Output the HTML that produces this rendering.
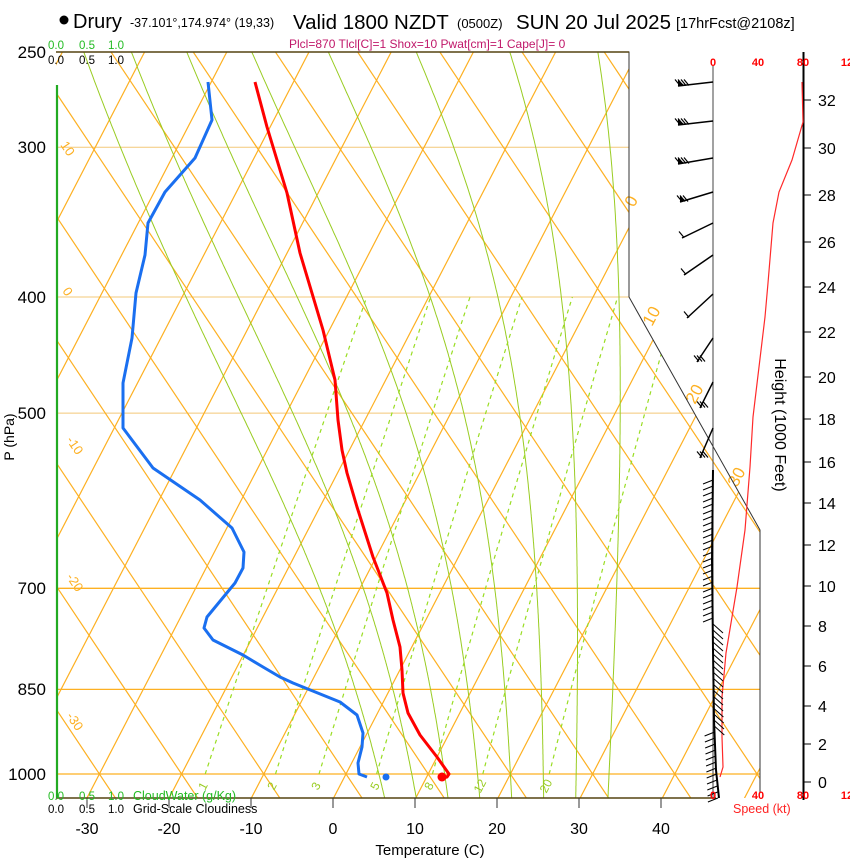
<!DOCTYPE html>
<html><head><meta charset="utf-8">
<style>
html,body{margin:0;padding:0;background:#fff;}
svg{display:block;font-family:"Liberation Sans",sans-serif;}
</style></head>
<body>
<svg id="s" width="850" height="860" viewBox="0 0 850 860" xmlns="http://www.w3.org/2000/svg">
<defs>
<clipPath id="cp"><polygon points="56,52 629,52 629,297 760,530 760,798 56,798"/></clipPath>
</defs>
<g id="grid" clip-path="url(#cp)"></g>
<g id="over"></g>
<!-- header -->
<circle cx="64" cy="20" r="4.5" fill="#000"/>
<text x="73" y="28" font-size="20">Drury</text>
<text x="130" y="27" font-size="12.5">-37.101°,174.974° (19,33)</text>
<text x="293" y="29" font-size="20.5">Valid 1800 NZDT</text>
<text x="457" y="28" font-size="13">(0500Z)</text>
<text x="516" y="29" font-size="20.5">SUN 20 Jul 2025</text>
<text x="676" y="28" font-size="14.5">[17hrFcst@2108z]</text>
<text x="48" y="49" font-size="11.5" fill="#22bb22">0.0</text>
<text x="79" y="49" font-size="11.5" fill="#22bb22">0.5</text>
<text x="108" y="49" font-size="11.5" fill="#22bb22">1.0</text>
<text x="289" y="48" font-size="12" fill="#c0186a">Plcl=870 Tlcl[C]=1 Shox=10 Pwat[cm]=1 Cape[J]= 0</text>
<text x="48" y="64" font-size="11.5">0.0</text>
<text x="79" y="64" font-size="11.5">0.5</text>
<text x="108" y="64" font-size="11.5">1.0</text>
<!-- pressure labels -->
<g font-size="17" text-anchor="end">
<text x="46" y="58">250</text><text x="46" y="153">300</text><text x="46" y="303">400</text>
<text x="46" y="419">500</text><text x="46" y="594">700</text><text x="46" y="695">850</text><text x="46" y="780">1000</text>
</g>
<text transform="translate(14,437) rotate(-90)" font-size="14" text-anchor="middle">P (hPa)</text>
<!-- bottom -->
<text x="48" y="800" font-size="11.5" fill="#22bb22">0.0</text>
<text x="79" y="800" font-size="11.5" fill="#22bb22">0.5</text>
<text x="108" y="800" font-size="11.5" fill="#22bb22">1.0</text>
<text x="133" y="800" font-size="12.5" fill="#22bb22">CloudWater (g/Kg)</text>
<text x="48" y="813" font-size="11.5">0.0</text>
<text x="79" y="813" font-size="11.5">0.5</text>
<text x="108" y="813" font-size="11.5">1.0</text>
<text x="133" y="813" font-size="12.5">Grid-Scale Cloudiness</text>
<g font-size="16" text-anchor="middle">
<text x="87" y="834">-30</text><text x="169" y="834">-20</text><text x="251" y="834">-10</text>
<text x="333" y="834">0</text><text x="415" y="834">10</text><text x="497" y="834">20</text>
<text x="579" y="834">30</text><text x="661" y="834">40</text>
</g>
<text x="430" y="855" font-size="15" text-anchor="middle">Temperature (C)</text>
<!-- speed axis labels -->
<g font-size="11" font-weight="bold" fill="#ff0000" text-anchor="middle">
<text x="713" y="66">0</text><text x="758" y="66">40</text><text x="803" y="66">80</text><text x="847" y="66">12</text>
<text x="713" y="799">0</text><text x="758" y="799">40</text><text x="803" y="799">80</text><text x="847" y="799">12</text>
</g>
<text x="733" y="813" font-size="12.5" fill="#ff2222">Speed (kt)</text>
<text transform="translate(775,425) rotate(90)" font-size="16" text-anchor="middle">Height (1000 Feet)</text>
<g id="hax"></g>
</svg>
<script>
(function(){
var NS="http://www.w3.org/2000/svg";
function el(parent,tag,attrs,txt){var e=document.createElementNS(NS,tag);for(var k in attrs)e.setAttribute(k,attrs[k]);if(txt!==undefined)e.textContent=txt;parent.appendChild(e);return e;}
var g=document.getElementById('grid'),o=document.getElementById('over'),h=document.getElementById('hax');
var OR="#fdb022";
function Y(p){return 774-520.6*Math.log(1000/p);}
function X(T,y){return 346+8.22*T+0.518*(774-y);}
[1000,850,700].forEach(function(p){var y=Y(p);el(g,'line',{x1:56,y1:y,x2:760,y2:y,stroke:OR,'stroke-width':1.3});});
[500,400,300].forEach(function(p){var y=Y(p);el(g,'line',{x1:56,y1:y,x2:760,y2:y,stroke:"#f3c878",'stroke-width':1});});
for(var k=-20;k<=20;k++){
 var x0=346+82.2*k;
 el(g,'line',{x1:x0+0.518*(774-820),y1:820,x2:x0+0.518*(774-40),y2:40,stroke:OR,'stroke-width':1.2});
 el(g,'line',{x1:x0-0.667*(774-820),y1:820,x2:x0-0.667*(774-40),y2:40,stroke:OR,'stroke-width':1.2});
}
function es(T){return 6.112*Math.exp(17.67*T/(T+243.5));}
function moist(tw){
 var Rd=287,cp=1004,L=2.5e6,eps=0.622;
 function dTdp(p,T){var Tk=T+273.15;var rs=eps*es(T)/(p-es(T));return (Rd*Tk+L*rs)/(p*(cp+L*L*rs*eps/(Rd*Tk*Tk)));}
 var up=[],T=tw,p=1000;
 for(;p>=245;p-=2){up.push([p,T]);T-=dTdp(p,T)*2;}
 var down=[];T=tw;p=1000;
 for(;p<=1052;p+=2){down.push([p,T]);T+=dTdp(p,T)*2;}
 var all=down.reverse().concat(up);
 return all.map(function(a){var y=Y(a[0]);return X(a[1],y).toFixed(1)+","+y.toFixed(1);}).join(" ");
}
[4,8,12,16,20,24,28,32].forEach(function(tw){el(g,'polyline',{points:moist(tw),fill:'none',stroke:'#99cc22','stroke-width':1});});
[1,2,3,5,8,12,20].forEach(function(w){
 var pts=[];for(var p=1000;p>=400;p-=10){var e=w*p/(622+w);var l=Math.log(e/6.112);var Td=243.5*l/(17.67-l);var y=Y(p);pts.push(X(Td,y).toFixed(1)+","+y.toFixed(1));}
 el(g,'polyline',{points:pts.join(" "),fill:'none',stroke:'#99dd22','stroke-width':1.2,'stroke-dasharray':'4,4'});
});
[[1,203],[2,272],[3,316],[5,375],[8,429],[12,480],[20,546]].forEach(function(a){
 el(o,'text',{x:a[1],y:790,'font-size':12,fill:'#99cc22','text-anchor':'middle',transform:'rotate(-62 '+a[1]+' 786)'},String(a[0]));
});
[[10,60,145],[0,62,291],[-10,66,440],[-20,66,577],[-30,66,716]].forEach(function(a){
 el(o,'text',{x:a[1],y:a[2],'font-size':13,fill:OR,transform:'rotate(56 '+a[1]+' '+a[2]+')'},String(a[0]));
});
[[0,634,208],[10,652,327],[20,695,405],[30,737,488]].forEach(function(a){
 el(o,'text',{x:a[1],y:a[2],'font-size':17,fill:OR,transform:'rotate(-62 '+a[1]+' '+a[2]+')'},String(a[0]));
});
el(o,'polyline',{points:"56,52 629,52 629,297 760,530 760,792",fill:'none',stroke:'#333','stroke-width':1});
el(o,'line',{x1:56,y1:52,x2:629,y2:52,stroke:'#554411','stroke-width':1.5});
el(o,'line',{x1:56,y1:798,x2:716,y2:798,stroke:'#554411','stroke-width':1.5});
el(o,'line',{x1:57,y1:85,x2:57,y2:798,stroke:'#22aa22','stroke-width':2.2});
[87,169,251,333,415,497,579,661].forEach(function(x){el(o,'line',{x1:x,y1:798,x2:x,y2:808,stroke:'#333','stroke-width':1});});
var blue=[[208,82],[212,120],[195,158],[165,192],[148,223],[145,255],[136,293],[132,338],[123,383],[123,428],[153,468],[200,500],[232,528],[244,552],[243,568],[235,583],[207,617],[204,628],[213,640],[243,655],[263,667],[280,677],[293,683],[340,702],[357,715],[363,733],[362,747],[358,763],[359,774],[367,777]];
var red=[[255,82],[267,127],[287,193],[300,253],[323,330],[335,380],[338,420],[342,450],[347,473],[357,507],[373,557],[387,593],[393,620],[400,647],[402,670],[403,693],[408,713],[420,735],[437,757],[449,774],[447,777],[442,778]];
function pl(a){return a.map(function(p){return p.join(",");}).join(" ");}
el(o,'polyline',{points:pl(blue),fill:'none',stroke:'#1a6ff0','stroke-width':3,'stroke-linejoin':'round'});
el(o,'polyline',{points:pl(red),fill:'none',stroke:'#ff0000','stroke-width':3,'stroke-linejoin':'round'});
el(o,'circle',{cx:386,cy:777,r:3.5,fill:'#1a6ff0'});
el(o,'circle',{cx:442,cy:777,r:4.5,fill:'#ff0000'});
el(o,'line',{x1:713,y1:66,x2:713,y2:798,stroke:'#444','stroke-width':1});
el(o,'line',{x1:803.5,y1:52,x2:803.5,y2:800,stroke:'#000','stroke-width':2});
var hts=[[0,782],[2,744],[4,706],[6,666],[8,626],[10,586],[12,545],[14,503],[16,462],[18,419],[20,377],[22,332],[24,287],[26,242],[28,195],[30,148],[32,100]];
hts.forEach(function(a){el(h,'line',{x1:804,y1:a[1],x2:811,y2:a[1],stroke:'#000','stroke-width':1});el(h,'text',{x:818,y:a[1]+6,'font-size':16},String(a[0]));});
var sp=[[802,82],[803,122],[792,160],[779,192],[773,223],[768,283],[765,317],[753,417],[750,467],[745,530],[737,587],[726,653],[722,697],[722,737],[723,767],[720,777]];
el(o,'polyline',{points:pl(sp),fill:'none',stroke:'#ff2a2a','stroke-width':1.2});
var ub=[[82,678,86],[121,678,125],[158,678,164],[192,680,202],[223,682,238],[255,684,275],[294,687,318],[338,697,362],[382,700,408],[428,700,458]];
ub.forEach(function(b,i){
 el(o,'line',{x1:713,y1:b[0],x2:b[1],y2:b[2],stroke:'#000','stroke-width':1.5});
 var n=i<3?4:(i<4?3:(i<7?1:3));
 if(i<4) el(o,'polygon',{points:b[1]+","+b[2]+" "+(b[1]+6)+","+(b[2]-1)+" "+(b[1])+","+(b[2]-6),fill:'#000'});
 for(var j=0;j<n;j++){var bx=b[1]+2+j*3,by=b[2]-0.5;el(o,'line',{x1:bx,y1:by,x2:bx-5,y2:by-6,stroke:'#000','stroke-width':1.2});}
});
el(o,'polyline',{points:"713,470 712,560 713,650 714,720 716,770 719,798",fill:'none',stroke:'#000','stroke-width':2});
for(var y=480;y<=800;y+=6){
 var x=713+(y>700?(y-700)/20:0);
 if(y>620&&y<730){el(o,'line',{x1:x,y1:y,x2:x+10,y2:y+9,stroke:'#000','stroke-width':1});}
 else{el(o,'line',{x1:x,y1:y,x2:x-10,y2:y+4,stroke:'#000','stroke-width':1});}
}
})();
</script>
</body></html>
